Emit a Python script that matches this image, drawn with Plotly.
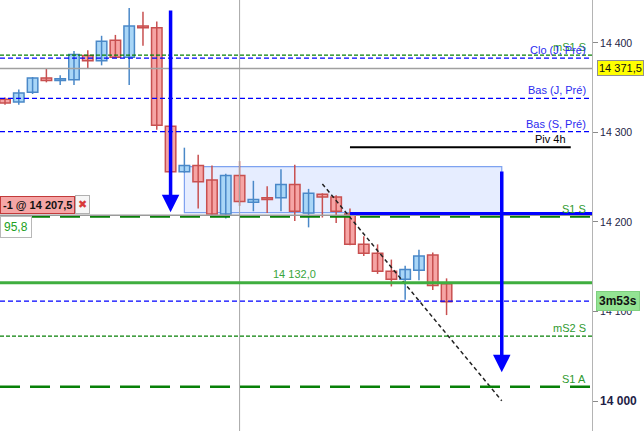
import plotly.graph_objects as go

# ---------------- data ----------------
candle_idx = list(range(33))
opens  = [14337, 14334, 14345, 14361, 14358, 14359, 14386, 14380, 14403, 14384, 14419,
          14417, 14307, 14256, 14263, 14247, 14209, 14252, 14222, 14227, 14227, 14242,
          14210, 14231, 14228, 14209, 14175, 14165, 14145, 14136, 14146, 14163, 14131]
highs  = [14339, 14348, 14362, 14371, 14364, 14391, 14392, 14408, 14409, 14439, 14435,
          14424, 14308, 14283, 14275, 14263, 14254, 14268, 14246, 14240, 14259, 14264,
          14237, 14232, 14230, 14215, 14184, 14175, 14158, 14151, 14169, 14166, 14137]
lows   = [14331, 14331, 14343, 14356, 14353, 14353, 14371, 14375, 14384, 14353, 14397,
          14303, 14254, 14255, 14215, 14208, 14204, 14218, 14212, 14210, 14212, 14201,
          14194, 14205, 14199, 14174, 14162, 14142, 14128, 14113, 14135, 14124, 14096]
closes = [14333, 14344, 14361, 14358, 14360, 14387, 14380, 14402, 14384, 14419, 14417,
          14308, 14256, 14263, 14245, 14209, 14252, 14223, 14225, 14225, 14242, 14212,
          14232, 14228, 14212, 14175, 14165, 14145, 14136, 14147, 14162, 14129, 14111]

# labelled horizontal levels (full width)
level_names  = ["mS1 S", "Clo (J, Pré)", "Bas (J, Pré)", "Bas (S, Pré)", "S1 S", "mS2 S", "S1 A"]
level_values = [14386.5, 14383.0, 14338.0, 14301.0, 14206.0, 14072.5, 14016.0]

last_price_level = 14111.5
crosshair_price = 14371.5
crosshair_label = "14 371,5"
crosshair_index = 17
order_price = 14207.5
order_text = "-1 @ 14 207,5"
pnl_text = "95,8"
timer_text = "3m53s"
target_level = 14132.0
target_text = "14 132,0"
blue_level = 14209.5
blue_level_start = 25
pivot_level = 14283.5
pivot_start, pivot_end = 25, 41
zone_x = [13, 36]
zone_y = [14210.4, 14261.8]
arrow1 = dict(x=12, y_from=14438, y_to=14211)
arrow2 = dict(x=36, y_from=14258, y_to=14032)
trend_x = [23, 36]
trend_y = [14242.5, 14000.3]

tick_vals = [14000, 14100, 14200, 14300, 14400]
tick_text = ["<span style='font-size:12px'><b>14 000</b></span>", "14 100", "14 200", "14 300", "14 400"]

# ---------------- styles ----------------
UP_FILL, UP_LINE = "#a9d6f7", "#4a88c8"
DN_FILL, DN_LINE = "#f6a5a5", "#c85050"
BLUE = "#0000ff"
LBL_BLUE = "#2b2bf0"
DKGREEN = "#078007"
LBL_GREEN = "#2f9a2f"
FONT = "Liberation Sans, Arial, sans-serif"

level_styles = {
    "mS1 S":        dict(color=DKGREEN, width=1.3, dash="4px,2px", label=LBL_GREEN),
    "Clo (J, Pré)": dict(color=BLUE, width=1.2, dash="5px,3px", label=LBL_BLUE),
    "Bas (J, Pré)": dict(color=BLUE, width=1.2, dash="5px,3px", label=LBL_BLUE),
    "Bas (S, Pré)": dict(color=BLUE, width=1.2, dash="5px,3px", label=LBL_BLUE),
    "S1 S":         dict(color=DKGREEN, width=2.5, dash="20px,10px", label=LBL_GREEN),
    "mS2 S":        dict(color=DKGREEN, width=1.2, dash="4px,2px", label=LBL_GREEN),
    "S1 A":         dict(color=DKGREEN, width=2.5, dash="20px,10px", label=LBL_GREEN),
}

fig = go.Figure()

# wicks
for is_up, col in ((True, UP_LINE), (False, DN_LINE)):
    wx, wy = [], []
    for i in candle_idx:
        if (closes[i] >= opens[i]) == is_up:
            wx += [i, i, None]
            wy += [lows[i], highs[i], None]
    fig.add_trace(go.Scatter(x=wx, y=wy, mode="lines", line=dict(color=col, width=1.5),
                             hoverinfo="skip", showlegend=False))

# bodies
for is_up, fill, col in ((True, UP_FILL, UP_LINE), (False, DN_FILL, DN_LINE)):
    sel = [i for i in candle_idx if (closes[i] >= opens[i]) == is_up]
    fig.add_trace(go.Bar(
        x=sel,
        base=[min(opens[i], closes[i]) for i in sel],
        y=[max(abs(closes[i] - opens[i]), 0.8) for i in sel],
        width=0.76,
        marker=dict(color=fill, line=dict(color=col, width=1.5)),
        hoverinfo="skip", showlegend=False))

# trend line
fig.add_trace(go.Scatter(x=trend_x, y=trend_y, mode="lines",
                         line=dict(color="#222222", width=1.5, dash="4px,3px"),
                         hoverinfo="skip", showlegend=False))

shapes = []
shapes.append(dict(type="rect", xref="x", yref="y", x0=zone_x[0], x1=zone_x[1],
                   y0=zone_y[0], y1=zone_y[1], fillcolor="rgba(205,220,255,0.5)",
                   line=dict(color="#7ea2f0", width=1.2), layer="below"))
shapes.append(dict(type="line", xref="x", yref="paper", x0=crosshair_index, x1=crosshair_index,
                   y0=0, y1=1, line=dict(color="#a8a8a8", width=1)))
shapes.append(dict(type="line", xref="paper", yref="y", x0=0, x1=1,
                   y0=crosshair_price, y1=crosshair_price, line=dict(color="#a0a0a0", width=1.3)))
for name, val in zip(level_names, level_values):
    st = level_styles[name]
    shapes.append(dict(type="line", xref="paper", yref="y", x0=0, x1=1, y0=val, y1=val,
                       line=dict(color=st["color"], width=st["width"], dash=st["dash"])))
shapes.append(dict(type="line", xref="paper", yref="y", x0=0, x1=1, y0=last_price_level,
                   y1=last_price_level, line=dict(color=BLUE, width=1.2, dash="5px,3px")))
shapes.append(dict(type="line", xref="paper", yref="y", x0=0, x1=1, y0=order_price, y1=order_price,
                   line=dict(color="#9a9a9a", width=1.5)))
shapes.append(dict(type="line", xref="x", yref="y", x0=blue_level_start, x1=42.54, y0=blue_level,
                   y1=blue_level, line=dict(color=BLUE, width=3)))
shapes.append(dict(type="line", xref="paper", yref="y", x0=0, x1=1, y0=target_level, y1=target_level,
                   line=dict(color="#3fae3f", width=3)))
shapes.append(dict(type="line", xref="x", yref="y", x0=pivot_start, x1=pivot_end, y0=pivot_level,
                   y1=pivot_level, line=dict(color="#000000", width=2)))

annotations = []
for name, val in zip(level_names, level_values):
    annotations.append(dict(xref="paper", yref="y", x=1, y=val, xanchor="right", yanchor="bottom",
                            xshift=-4, text=name, showarrow=False,
                            font=dict(family=FONT, size=11, color=level_styles[name]["label"])))
annotations.append(dict(xref="x", yref="y", x=pivot_end, y=pivot_level, xanchor="right",
                        yanchor="bottom", xshift=-3, text="Piv 4h", showarrow=False,
                        font=dict(family=FONT, size=11, color="#000000")))
annotations.append(dict(xref="x", yref="y", x=21, y=target_level, xanchor="center",
                        yanchor="bottom", yshift=1, text=target_text, showarrow=False,
                        font=dict(family=FONT, size=11, color="#3aa53a")))
for a in (arrow1, arrow2):
    annotations.append(dict(xref="x", yref="y", axref="x", ayref="y", x=a["x"], y=a["y_to"],
                            ax=a["x"], ay=a["y_from"], text="", showarrow=True, arrowhead=2,
                            arrowsize=1, arrowwidth=3.5, arrowcolor=BLUE, standoff=0))
annotations.append(dict(xref="paper", yref="y", x=1, y=crosshair_price, xanchor="left",
                        yanchor="middle", xshift=5, text=crosshair_label,
                        showarrow=False, bgcolor="#ffff00", bordercolor="#909090", borderwidth=1,
                        borderpad=1, font=dict(family=FONT, size=11, color="#111111")))
annotations.append(dict(xref="paper", yref="y", x=1, y=last_price_level, xanchor="left",
                        yanchor="middle", xshift=4, text="<b>" + timer_text + "</b>",
                        showarrow=False, bgcolor="#93e393", bordercolor="#7fd07f", borderwidth=1,
                        borderpad=2, font=dict(family=FONT, size=12, color="#111111")))
annotations.append(dict(xref="paper", yref="y", x=0, y=order_price, xanchor="left",
                        yanchor="bottom", yshift=1, text="<b>" + order_text + "</b>",
                        showarrow=False, bgcolor="#f5a6a6", bordercolor="#c23a3a", borderwidth=1,
                        borderpad=2, font=dict(family=FONT, size=11, color="#111111")))
annotations.append(dict(xref="paper", yref="y", x=75 / 592, y=order_price, xanchor="left",
                        yanchor="bottom", yshift=1, text="<b>✖</b>", showarrow=False,
                        bgcolor="#f6f6f6", bordercolor="#b0b0b0", borderwidth=1, borderpad=2,
                        font=dict(family="DejaVu Sans", size=11, color="#d83a3a")))
annotations.append(dict(xref="paper", yref="y", x=0, y=order_price, xanchor="left",
                        yanchor="top", yshift=-1, text=pnl_text, showarrow=False,
                        bgcolor="#ffffff", bordercolor="#b8b8b8", borderwidth=1, borderpad=3,
                        font=dict(family=FONT, size=12, color="#22a022")))

fig.update_layout(
    width=644, height=431,
    margin=dict(l=0, r=52, t=0, b=0, autoexpand=False),
    paper_bgcolor="#ffffff", plot_bgcolor="#ffffff",
    barmode="overlay", showlegend=False,
    shapes=shapes, annotations=annotations,
    xaxis=dict(range=[-0.362, 42.54], visible=False, fixedrange=True),
    yaxis=dict(range=[13966.5, 14448.0], side="right", showgrid=False, zeroline=False,
               showline=True, linecolor="#b4b4b4", linewidth=1, automargin=False,
               ticks="outside", ticklen=5, tickcolor="#8a8a8a",
               tickvals=tick_vals, ticktext=tick_text,
               tickfont=dict(family=FONT, size=10.5, color="#1e1e46")),
)

fig.write_html("out.html", config={"displayModeBar": False},
               post_script="document.body.style.margin='0';document.body.style.overflow='hidden';")
